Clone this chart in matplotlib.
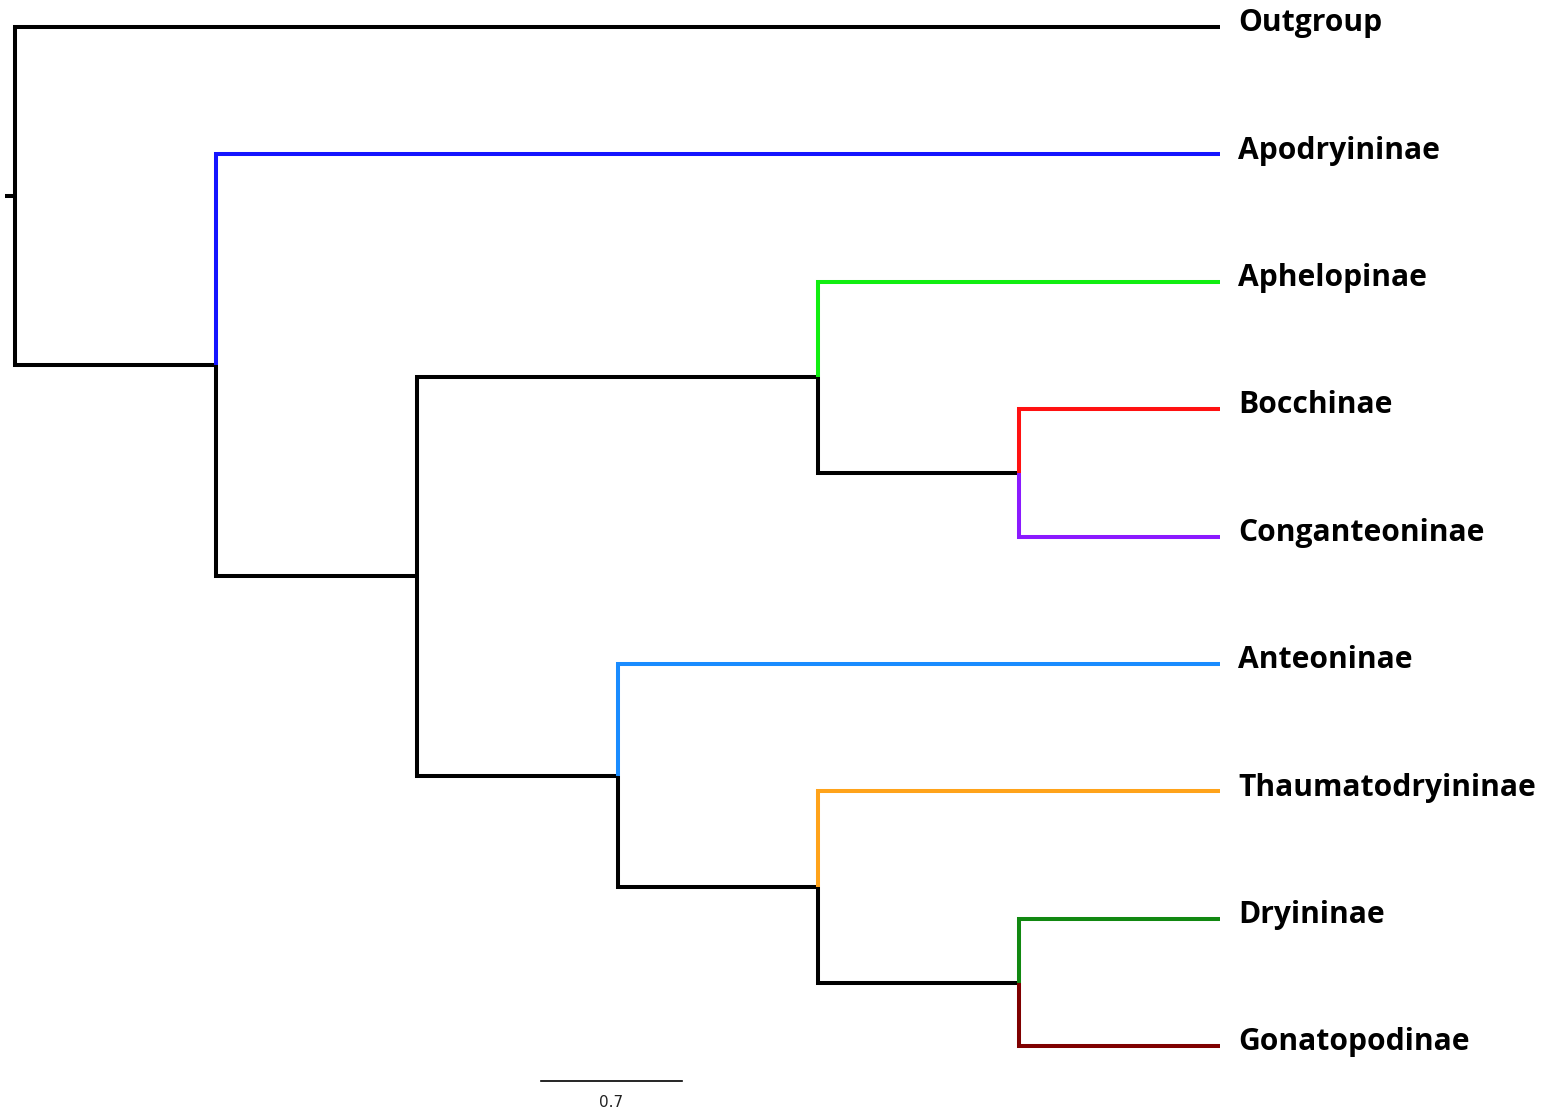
import matplotlib.pyplot as plt

# leaf names, top to bottom, and the colour of each terminal branch
leaves = ["Outgroup", "Apodryininae", "Aphelopinae", "Bocchinae", "Conganteoninae",
          "Anteoninae", "Thaumatodryininae", "Dryininae", "Gonatopodinae"]
leaf_colors = ["#000000", "#1414ff", "#11ee11", "#ff1111", "#8b1aff",
               "#1a8cff", "#ffa31a", "#118811", "#7f0000"]

# topology as nested tuples: (children, branch length); leaves are (index, branch length)
tree = ([(0, 6.0),
         ([(1, 5.0),
           ([([(2, 2.0),
               ([(3, 1.0), (4, 1.0)], 1.0)], 2.0),
             ([(5, 3.0),
               ([(6, 2.0),
                 ([(7, 1.0), (8, 1.0)], 1.0)], 1.0)], 1.0)], 1.0)], 1.0)], 0.05)

scale_len = 0.7
scale_label = "0.7"

LW = 2.9


def node_y(node):
    sub, _ = node
    if isinstance(sub, int):
        return float(sub)
    ys = [node_y(c) for c in sub]
    return (ys[0] + ys[-1]) / 2


def node_color(node):
    sub, _ = node
    if isinstance(sub, int):
        return leaf_colors[sub]
    return "#000000"


def draw(ax, node, x0):
    sub, _ = node
    if isinstance(sub, int):
        return
    py = node_y(node)
    for child in sub:
        cx = x0 + child[1]
        cy = node_y(child)
        ax.plot([x0, x0, cx], [py, cy, cy], color=node_color(child), lw=LW,
                solid_joinstyle="miter", solid_capstyle="butt")
        if isinstance(child[0], int):
            ax.text(cx + 0.09, cy - 0.03, leaves[child[0]], fontsize=21.6,
                    fontweight="bold", family="Open Sans", va="center", ha="left")
        draw(ax, child, cx)


fig = plt.figure(figsize=(15.48, 11.12), dpi=100)
ax = fig.add_axes([0, 0, 1, 1])

# root stub
root_len = tree[1]
ry = node_y(tree)
ax.plot([-root_len, 0], [ry, ry], color="black", lw=LW, solid_capstyle="butt")
draw(ax, tree, 0.0)

# scale bar
sx = 2.62
ax.plot([sx, sx + scale_len], [8.273, 8.273], color="black", lw=1.2)
ax.text(sx + scale_len / 2, 8.44, scale_label, fontsize=11, ha="center", va="center",
        color="#222222")

ax.set_xlim(-0.0747, 7.633)
ax.set_ylim(8.516, -0.212)
ax.axis("off")

fig.savefig("out.png", dpi=100)
